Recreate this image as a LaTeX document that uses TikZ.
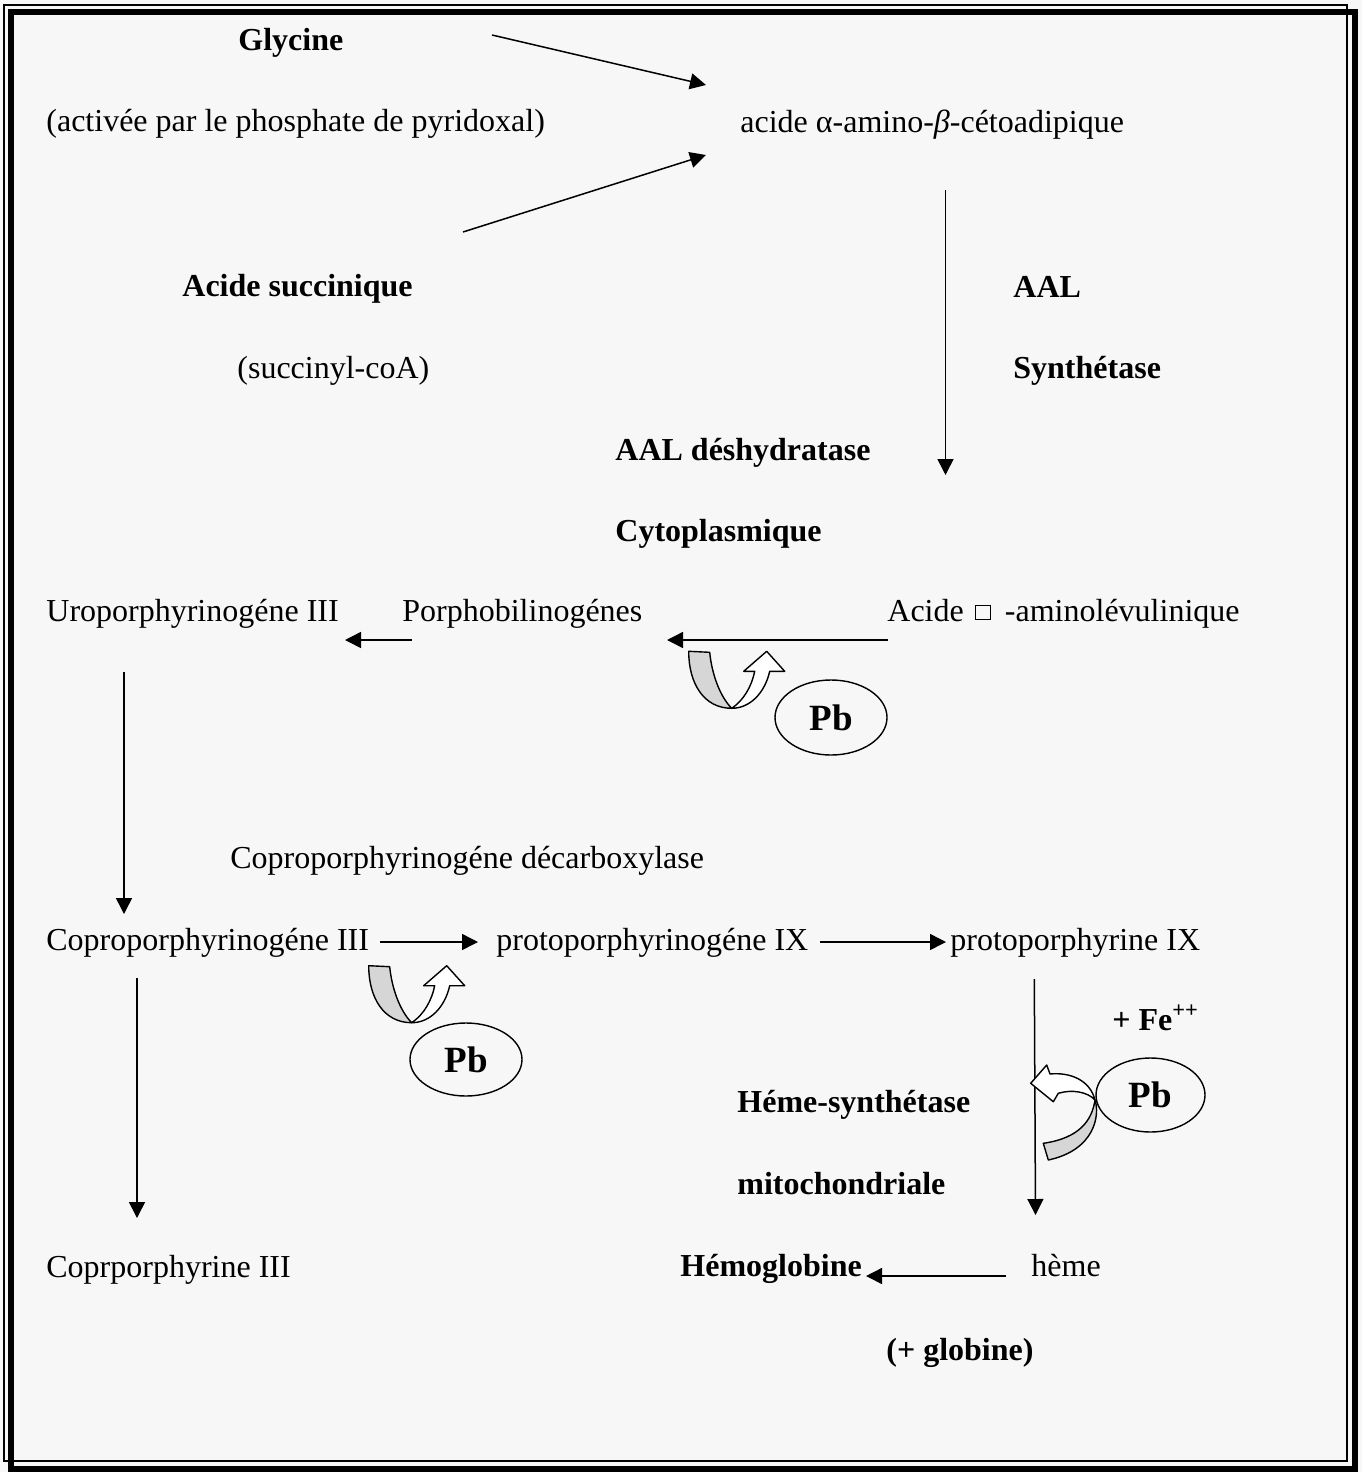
\documentclass[tikz,border=0pt]{standalone}
\usepackage{fontspec}
\setmainfont{Liberation Serif}
\usetikzlibrary{arrows.meta,shapes.geometric}
\newcommand{\missingbox}{\hspace{0.36em}\raisebox{0.8pt}{\setlength{\fboxsep}{0pt}\setlength{\fboxrule}{0.45pt}\fbox{\rule{0pt}{0.42em}\hspace{0.42em}}}\hspace{0.45em}}
\begin{document}
\begin{tikzpicture}[x=0.5pt,y=-0.5pt,
  lab/.style={anchor=base west,inner sep=0pt,font=\fontsize{16pt}{19pt}\selectfont},
  blab/.style={anchor=base west,inner sep=0pt,font=\fontsize{16pt}{19pt}\selectfont\bfseries},
  arr/.style={-{Triangle[length=8pt,width=8pt]},line width=0.75pt},
  pb/.style={ellipse,draw,line width=0.7pt,inner sep=0pt,font=\fontsize{18.5pt}{20pt}\selectfont\bfseries},
  uarr/.style={draw,line width=0.7pt,fill=white,line join=round},
  utail/.style={draw,line width=0.7pt,fill=black!16,line join=round}
]
\useasboundingbox (0,0) rectangle (1362,1472);
\fill[black!3] (0,0) rectangle (1362,1472);
% frame
\draw[line width=0.6pt] (4,5) rectangle (1347,1461);
\draw[line width=3pt] (10.5,11.5) rectangle (1355,1468.5);

% labels
\node[blab] (gly) at (238,50) {Glycine};
\node[lab] (act) at (46,131) {(activée par le phosphate de pyridoxal)};
\node[lab] (aab) at (740,132) {acide α-amino-\textit{β}-cétoadipique};
\node[blab] (suc) at (182,296) {Acide succinique};
\node[lab] (scoa) at (237,378) {(succinyl-coA)};
\node[blab] (aal) at (1013,297) {AAL};
\node[blab] (syn) at (1013,378) {Synthétase};
\node[blab] (deh) at (615,460) {AAL déshydratase};
\node[blab] (cyt) at (615,541) {Cytoplasmique};
\node[lab] (uro) at (46,621) {Uroporphyrinogéne III};
\node[lab] (pbg) at (402,621) {Porphobilinogénes};
\node[lab] (ala) at (887,621) {Acide\missingbox-aminolévulinique};
\node[lab] (cdc) at (230,868) {Coproporphyrinogéne décarboxylase};
\node[lab] (cop) at (46,950) {Coproporphyrinogéne III};
\node[lab] (ppg) at (496,950) {protoporphyrinogéne IX};
\node[lab] (ppx) at (950,950) {protoporphyrine IX};
\node[blab] (fe) at (1112,1030) {+ Fe\textsuperscript{++}};
\node[blab] (hsy) at (737,1112) {Héme-synthétase};
\node[blab] (mit) at (737,1194) {mitochondriale};
\node[lab] (cpp) at (46,1277) {Coprporphyrine III};
\node[blab] (hem) at (680,1276) {Hémoglobine};
\node[lab] (heme) at (1031,1276) {hème};
\node[blab] (glo) at (886,1360) {(+ globine)};

% Pb ellipses
\node[pb,minimum width=56pt,minimum height=37.5pt] (pb1) at (831,717.5) {Pb};
\node[pb,minimum width=56pt,minimum height=36.5pt] (pb2) at (466,1059.5) {Pb};
\node[pb,minimum width=54.5pt,minimum height=37pt] (pb3) at (1150.5,1095) {Pb};

% connector end points
\coordinate (a1s) at (492,35);   \coordinate (a1e) at (706,85);
\coordinate (a2s) at (463,232);  \coordinate (a2e) at (706,155);
\coordinate (a3s) at (945.5,190); \coordinate (a3e) at (945.5,475);
\coordinate (a4s) at (888,640);  \coordinate (a4e) at (667,640);
\coordinate (a5s) at (412,640);  \coordinate (a5e) at (345,640);
\coordinate (a6s) at (124,672);  \coordinate (a6e) at (124,914);
\coordinate (a7s) at (380,942);  \coordinate (a7e) at (478,942);
\coordinate (a8s) at (820,942);  \coordinate (a8e) at (946,942);
\coordinate (a9s) at (137,978);  \coordinate (a9e) at (137,1218);
\coordinate (a10s) at (1034.3,979); \coordinate (a10e) at (1035.5,1215);
\coordinate (a11s) at (1006,1276); \coordinate (a11e) at (866,1276);

\draw[arr] (a1s) -- (a1e);
\draw[arr] (a2s) -- (a2e);
\draw[arr] (a3s) -- (a3e);
\draw[arr] (a4s) -- (a4e);
\draw[arr] (a5s) -- (a5e);
\draw[arr] (a6s) -- (a6e);
\draw[arr] (a7s) -- (a7e);
\draw[arr] (a8s) -- (a8e);
\draw[arr] (a9s) -- (a9e);
\draw[arr] (a10s) -- (a10e);
\draw[arr] (a11s) -- (a11e);

% U-turn block arrows (1 and 2)
\foreach \bx/\by in {731.7/708.3, 411.7/1022.7}{
  \begin{scope}[shift={(\bx,\by)}]
    \path[utail] (-43,-57) .. controls (-43,-25) and (-28,0) .. (0,0)
      .. controls (-12,-12) and (-20,-35) .. (-22,-56) -- cycle;
    \path[uarr] (0,0) .. controls (18,0) and (33,-15) .. (38,-37)
      -- (53,-37) -- (35,-57) -- (12,-37) -- (23,-37)
      .. controls (20,-22) and (12,-8) .. (0,0) -- cycle;
  \end{scope}
}
% block arrow 3
\path[utail] (1095,1100) .. controls (1100,1115) and (1095,1150) .. (1048.3,1160)
  -- (1043.3,1143.3) .. controls (1080,1138) and (1092,1120) .. (1095,1100) -- cycle;
\path[uarr] (1095,1100) .. controls (1090,1080) and (1070,1072) .. (1050,1074)
  -- (1046.7,1065) -- (1030.7,1083.3) -- (1053.3,1101.7) -- (1058.3,1093.3)
  .. controls (1072,1089) and (1088,1092) .. (1095,1100) -- cycle;
\end{tikzpicture}
\end{document}
